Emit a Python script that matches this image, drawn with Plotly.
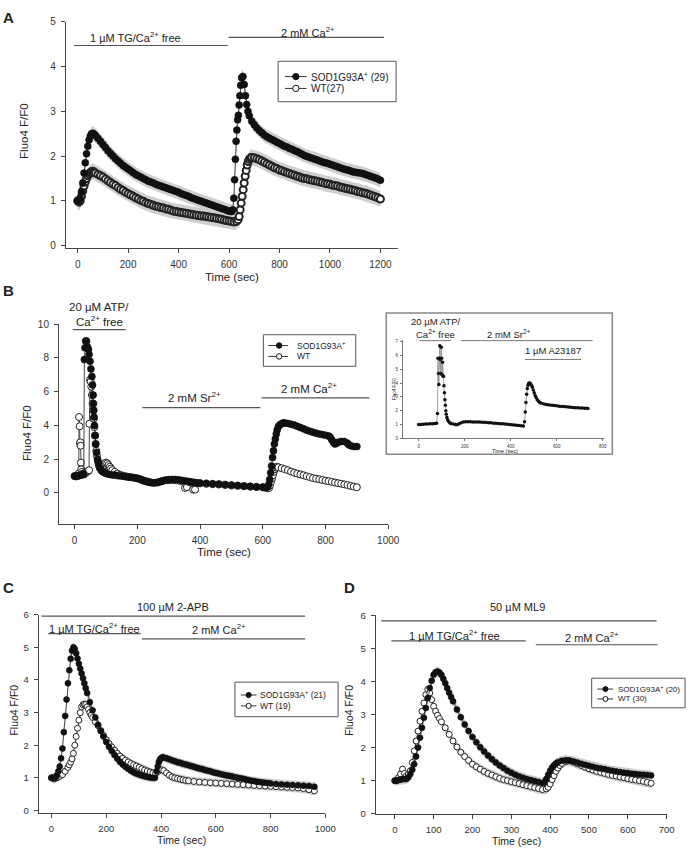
import plotly.graph_objects as go

W, H = 700, 853
FONT = "Liberation Sans, Arial, sans-serif"

# ---------------- data (time in sec, Fluo4 F/F0) ----------------
# Panel A: 1 uM TG / Ca2+ free, then 2 mM Ca2+
a_sod = [(0,1.00),(5,1.00),(10,1.05),(15,1.20),(20,1.40),(25,1.62),(30,1.85),(35,2.05),(40,2.22),(45,2.36),
         (50,2.45),(55,2.50),(60,2.51),(65,2.49),(70,2.46),(80,2.40),(90,2.33),(100,2.26),(110,2.19),(120,2.12),
         (130,2.06),(140,2.00),(150,1.94),(160,1.89),(170,1.84),(180,1.79),(190,1.75),(200,1.71),(210,1.67),
         (220,1.63),(230,1.59),(240,1.56),(250,1.53),(260,1.50),(270,1.47),(280,1.44),(290,1.42),(300,1.40),
         (310,1.37),(320,1.35),(330,1.33),(340,1.31),(350,1.29),(360,1.27),(370,1.25),(380,1.23),(390,1.21),
         (400,1.19),(410,1.16),(420,1.14),(430,1.12),(440,1.10),(450,1.07),(460,1.05),(470,1.03),(480,1.01),
         (490,0.99),(500,0.97),(510,0.95),(520,0.93),(530,0.91),(540,0.89),(550,0.87),(560,0.85),(570,0.83),
         (580,0.81),(590,0.79),(600,0.77),(610,0.76),(615,0.80),(619,1.06),(622,1.47),(625,1.93),(628,2.33),
         (631,2.58),(634,2.81),(637,2.91),(640,3.14),(643,3.35),(646,3.58),(650,3.75),(655,3.78),(660,3.60),
         (665,3.35),(670,3.15),(675,3.00),(680,2.90),(690,2.78),(700,2.70),(710,2.63),(720,2.57),(730,2.52),
         (740,2.47),(750,2.43),(760,2.40),(770,2.37),(780,2.34),(790,2.31),(800,2.28),(810,2.25),(820,2.22),
         (830,2.20),(840,2.17),(850,2.15),(860,2.12),(870,2.10),(880,2.07),(890,2.04),(900,2.01),(910,1.99),
         (920,1.97),(930,1.95),(940,1.93),(950,1.91),(960,1.89),(970,1.87),(980,1.85),(990,1.84),(1000,1.82),
         (1010,1.80),(1020,1.78),(1030,1.76),(1040,1.74),(1050,1.72),(1060,1.70),(1070,1.69),(1080,1.67),
         (1090,1.65),(1100,1.64),(1110,1.63),(1120,1.62),(1130,1.61),(1140,1.59),(1150,1.57),(1160,1.55),
         (1170,1.53),(1180,1.51),(1190,1.49),(1200,1.46)]
a_wt = [(0,1.00),(5,0.97),(10,1.00),(15,1.10),(20,1.22),(25,1.33),(30,1.42),(35,1.50),(40,1.56),(45,1.60),
        (50,1.63),(55,1.65),(60,1.66),(65,1.64),(70,1.62),(80,1.59),(90,1.56),(100,1.53),(110,1.49),(120,1.45),
        (130,1.41),(140,1.37),(150,1.34),(160,1.30),(170,1.26),(180,1.23),(190,1.19),(200,1.16),(210,1.13),
        (220,1.10),(230,1.07),(240,1.04),(250,1.01),(260,0.99),(270,0.96),(280,0.94),(290,0.92),(300,0.90),
        (310,0.88),(320,0.87),(330,0.85),(340,0.84),(350,0.82),(360,0.81),(370,0.79),(380,0.77),(390,0.76),
        (400,0.75),(410,0.74),(420,0.73),(430,0.72),(440,0.71),(450,0.70),(460,0.69),(470,0.68),(480,0.67),
        (490,0.66),(500,0.66),(510,0.65),(520,0.64),(530,0.63),(540,0.62),(550,0.61),(560,0.60),(570,0.59),
        (580,0.57),(590,0.56),(600,0.55),(610,0.54),(620,0.53),(630,0.54),(636,0.58),(640,0.65),(644,0.80),
        (648,0.95),(652,1.10),(656,1.25),(660,1.40),(664,1.55),(668,1.68),(672,1.80),(676,1.88),(680,1.93),
        (685,1.96),(690,1.97),(700,1.96),(710,1.94),(720,1.92),(730,1.89),(740,1.86),(750,1.83),(760,1.80),
        (770,1.77),(780,1.74),(790,1.72),(800,1.69),(810,1.67),(820,1.65),(830,1.63),(840,1.61),(850,1.59),
        (860,1.57),(870,1.55),(880,1.53),(890,1.51),(900,1.50),(910,1.49),(920,1.47),(930,1.46),(940,1.45),
        (950,1.44),(960,1.42),(970,1.41),(980,1.39),(990,1.38),(1000,1.37),(1010,1.35),(1020,1.34),(1030,1.33),
        (1040,1.31),(1050,1.30),(1060,1.28),(1070,1.27),(1080,1.26),(1090,1.24),(1100,1.23),(1110,1.21),
        (1120,1.20),(1130,1.18),(1140,1.17),(1150,1.15),(1160,1.13),(1170,1.11),(1180,1.09),(1190,1.07),(1200,1.04)]
sem_a_sod = 0.16
sem_a_wt = 0.18

# Panel B: 20 uM ATP / Ca2+ free, 2 mM Sr2+, 2 mM Ca2+
b_sod = [(0,1.0),(5,1.0),(10,1.0),(15,1.05),(20,1.05),(25,1.1),(29,1.12),(31,7.9),(33,8.6),(35,9.0),(38,9.0),
         (41,8.65),(44,8.5),(46,8.2),(49,7.8),(52,7.35),(55,6.9),(57,6.4),(59,5.8),(60,5.3),(61,4.9),(62,4.5),
         (63,4.0),(65,3.4),(67,2.9),(70,2.4),(73,2.0),(76,1.75),(80,1.5),(85,1.35),(90,1.25),(96,1.2),(100,1.15),
         (110,1.1),(120,1.07),(130,1.05),(140,1.02),(150,1.0),(160,0.97),(170,0.95),(180,0.93),(190,0.9),
         (200,0.86),(210,0.8),(220,0.72),(230,0.66),(240,0.62),(250,0.6),(260,0.62),(270,0.66),(280,0.71),
         (290,0.76),(300,0.79),(310,0.8),(320,0.8),(330,0.78),(340,0.75),(350,0.72),(360,0.69),(370,0.66),
         (380,0.63),(390,0.6),(400,0.59),(420,0.57),(440,0.55),(460,0.53),(480,0.5),(500,0.47),(520,0.45),
         (540,0.42),(560,0.4),(580,0.37),(600,0.35),(610,0.33),(615,0.35),(619,0.5),(622,0.8),(625,1.2),
         (628,1.6),(631,2.1),(634,2.5),(637,2.9),(640,3.2),(643,3.5),(646,3.75),(650,3.95),(655,4.05),(660,4.1),
         (665,4.15),(670,4.15),(680,4.12),(690,4.07),(700,4.02),(710,3.95),(720,3.88),(730,3.8),(740,3.72),
         (750,3.66),(760,3.6),(770,3.54),(780,3.5),(790,3.46),(800,3.42),(810,3.38),(815,3.3),(820,3.15),
         (825,3.0),(830,2.9),(835,2.95),(840,3.0),(850,3.05),(860,3.05),(870,2.95),(875,2.85),(880,2.8),
         (890,2.75),(900,2.75)]
b_wt = [(0,1.0),(4,0.98),(8,1.0),(11,1.1),(13,1.15),(14,4.5),(16,3.95),(17,2.95),(18,3.0),(19,2.8),(20,1.8),
        (21,1.4),(23,1.25),(26,1.15),(30,1.1),(35,1.2),(40,1.25),(44,1.3),(46,1.35),(47,4.1),(49,6.7),(51,6.6),
        (53,6.3),(55,5.8),(57,5.3),(59,4.9),(61,4.4),(63,3.9),(65,3.4),(67,2.9),(69,2.5),(71,2.2),(74,1.9),
        (77,1.65),(80,1.5),(84,1.4),(88,1.45),(92,1.6),(96,1.75),(100,1.8),(104,1.75),(108,1.65),(112,1.55),
        (116,1.45),(120,1.35),(128,1.25),(136,1.15),(145,1.08),(155,1.02),(165,0.98),(175,0.95),(185,0.92),
        (195,0.89),(205,0.85),(215,0.78),(225,0.72),(235,0.67),(245,0.62),(255,0.6),(265,0.62),(275,0.68),
        (285,0.74),(295,0.76),(305,0.77),(315,0.76),(325,0.75),(335,0.72),(345,0.68),(352,0.3),(358,0.35),
        (365,0.65),(372,0.62),(378,0.2),(384,0.2),(390,0.58),(400,0.57),(420,0.54),(440,0.52),(460,0.5),
        (480,0.47),(500,0.44),(520,0.42),(540,0.4),(560,0.37),(580,0.35),(600,0.33),(610,0.3),(616,0.28),
        (620,0.3),(623,0.45),(626,0.65),(629,0.85),(632,1.05),(635,1.25),(638,1.4),(642,1.5),(646,1.55),
        (650,1.52),(660,1.47),(670,1.41),(680,1.35),(690,1.27),(700,1.2),(710,1.15),(720,1.1),(730,1.05),
        (740,0.99),(750,0.94),(760,0.88),(770,0.85),(780,0.81),(790,0.77),(800,0.73),(810,0.7),(820,0.66),
        (830,0.62),(840,0.58),(850,0.55),(860,0.51),(870,0.47),(880,0.42),(890,0.38),(900,0.34)]

# Panel B inset: ATP / Sr2+ / 1 uM A23187
inset = [(0,1.0),(10,1.0),(20,1.02),(30,1.03),(40,1.04),(50,1.05),(60,1.06),(70,1.08),(78,1.1),(82,1.8),
         (84,5.8),(86,4.7),(88,3.9),(90,5.8),(92,6.7),(94,5.7),(96,4.7),(98,6.6),(100,5.8),(102,4.6),(104,5.5),
         (106,4.5),(108,4.5),(110,3.8),(112,3.3),(114,2.8),(116,2.4),(118,2.0),(120,1.75),(123,1.5),(126,1.35),
         (130,1.22),(135,1.13),(140,1.08),(150,1.03),(160,1.0),(168,0.98),(176,1.05),(185,1.13),(195,1.18),
         (205,1.2),(215,1.2),(225,1.2),(235,1.19),(245,1.19),(255,1.18),(265,1.18),(275,1.17),(285,1.16),
         (295,1.15),(305,1.13),(315,1.12),(325,1.1),(335,1.09),(345,1.08),(355,1.06),(365,1.05),(375,1.04),
         (385,1.02),(395,1.0),(405,0.99),(415,0.97),(425,0.95),(435,0.93),(445,0.91),(455,0.9),(460,1.2),
         (463,1.9),(466,2.6),(469,3.2),(472,3.6),(475,3.85),(478,3.98),(482,4.0),(486,3.95),(490,3.85),
         (494,3.7),(498,3.5),(502,3.3),(506,3.1),(510,2.95),(515,2.8),(520,2.7),(525,2.62),(530,2.56),
         (540,2.5),(550,2.46),(560,2.43),(570,2.41),(580,2.39),(590,2.37),(600,2.35),(610,2.33),(620,2.31),
         (630,2.3),(640,2.28),(650,2.27),(660,2.25),(670,2.24),(680,2.22),(690,2.21),(700,2.2),(710,2.19),
         (720,2.18),(730,2.17),(735,2.16)]

# Panel C: 100 uM 2-APB throughout
c_sod = [(0,1.0),(5,1.0),(10,1.0),(15,1.02),(20,1.08),(25,1.2),(30,1.35),(35,1.6),(40,1.9),(45,2.4),(50,2.9),
         (55,3.4),(60,3.9),(65,4.3),(70,4.65),(75,4.9),(80,5.0),(85,4.95),(90,4.82),(95,4.66),(100,4.5),
         (105,4.35),(110,4.2),(115,4.05),(120,3.9),(125,3.75),(130,3.6),(140,3.32),(150,3.07),(160,2.85),
         (170,2.63),(180,2.44),(190,2.27),(200,2.1),(210,1.95),(220,1.82),(230,1.7),(240,1.59),(250,1.49),
         (260,1.41),(270,1.34),(280,1.28),(290,1.22),(300,1.17),(310,1.13),(320,1.1),(330,1.07),(340,1.05),
         (350,1.03),(360,1.01),(370,1.0),(378,1.0),(384,1.2),(388,1.35),(392,1.48),(396,1.56),(400,1.6),
         (405,1.63),(410,1.62),(420,1.6),(430,1.57),(440,1.54),(450,1.51),(460,1.48),(470,1.46),(480,1.43),
         (490,1.41),(500,1.39),(510,1.36),(520,1.34),(530,1.31),(540,1.29),(550,1.27),(560,1.24),(570,1.22),
         (580,1.2),(590,1.17),(600,1.15),(610,1.13),(620,1.11),(630,1.09),(640,1.07),(650,1.06),(660,1.04),
         (670,1.02),(680,1.0),(690,0.99),(700,0.97),(710,0.95),(720,0.93),(730,0.91),(740,0.9),(750,0.88),
         (760,0.87),(770,0.86),(780,0.85),(790,0.84),(800,0.83),(820,0.81),(840,0.8),(860,0.79),(880,0.78),
         (900,0.77),(920,0.76),(940,0.75),(960,0.73)]
c_wt = [(0,1.0),(10,0.97),(20,1.0),(30,1.05),(40,1.1),(50,1.2),(60,1.32),(65,1.4),(70,1.48),(75,1.58),
        (80,1.75),(85,2.0),(90,2.27),(95,2.52),(100,2.77),(105,3.0),(110,3.18),(115,3.24),(120,3.26),(125,3.25),
        (130,3.18),(135,3.1),(140,3.0),(145,2.92),(150,2.85),(160,2.72),(170,2.6),(180,2.45),(190,2.3),
        (200,2.17),(210,2.05),(220,1.95),(230,1.85),(240,1.75),(250,1.67),(260,1.6),(270,1.54),(280,1.49),
        (290,1.44),(300,1.4),(310,1.36),(320,1.32),(330,1.28),(340,1.24),(350,1.21),(360,1.18),(370,1.15),
        (380,1.13),(390,1.2),(400,1.25),(410,1.22),(420,1.15),(430,1.08),(440,1.03),(450,1.0),(460,0.98),
        (470,0.96),(480,0.94),(490,0.92),(500,0.91),(520,0.89),(540,0.87),(560,0.86),(580,0.85),(600,0.84),
        (620,0.83),(640,0.82),(660,0.81),(680,0.8),(700,0.79),(720,0.78),(740,0.77),(760,0.76),(780,0.75),
        (800,0.74),(820,0.73),(840,0.72),(860,0.71),(880,0.7),(900,0.69),(920,0.67),(940,0.64),(960,0.6)]
sem_c_sod = 0.14
sem_c_wt = 0.14

# Panel D: 50 uM ML9 throughout
d_sod = [(0,1.0),(5,1.0),(10,1.02),(15,1.03),(20,1.05),(25,1.05),(30,1.05),(35,1.1),(40,1.2),(45,1.33),
         (50,1.5),(55,1.73),(60,2.0),(65,2.3),(70,2.6),(75,2.9),(80,3.2),(85,3.5),(90,3.8),(95,4.02),(100,4.2),
         (105,4.28),(110,4.3),(115,4.27),(120,4.2),(125,4.08),(130,3.95),(135,3.8),(140,3.66),(145,3.53),
         (150,3.4),(160,3.15),(170,2.92),(180,2.7),(190,2.5),(200,2.32),(210,2.16),(220,2.01),(230,1.88),
         (240,1.76),(250,1.65),(260,1.55),(270,1.46),(280,1.38),(290,1.3),(300,1.24),(310,1.18),(320,1.13),
         (330,1.09),(340,1.05),(350,1.02),(360,0.99),(370,0.96),(380,0.93),(385,0.95),(390,1.05),(395,1.18),
         (400,1.3),(405,1.4),(410,1.47),(415,1.52),(420,1.56),(430,1.6),(440,1.62),(450,1.61),(460,1.58),
         (470,1.55),(480,1.51),(490,1.48),(500,1.45),(510,1.42),(520,1.39),(530,1.37),(540,1.35),(550,1.32),
         (560,1.3),(570,1.28),(580,1.26),(590,1.24),(600,1.23),(610,1.21),(620,1.2),(630,1.19),(640,1.18),
         (650,1.17),(660,1.16)]
d_wt = [(0,1.0),(5,1.02),(10,1.1),(15,1.2),(20,1.35),(25,1.22),(30,1.15),(35,1.2),(40,1.3),(45,1.55),
        (50,1.9),(55,2.2),(60,2.5),(65,2.8),(70,3.1),(75,3.35),(80,3.6),(85,3.76),(90,3.65),(95,3.45),
        (100,3.25),(105,3.1),(110,2.98),(115,2.88),(120,2.78),(130,2.6),(140,2.4),(150,2.2),(160,2.02),
        (170,1.86),(180,1.73),(190,1.61),(200,1.5),(210,1.42),(220,1.35),(230,1.28),(240,1.22),(250,1.17),
        (260,1.12),(270,1.07),(280,1.03),(290,1.0),(300,0.97),(310,0.94),(320,0.91),(330,0.88),(340,0.85),
        (350,0.82),(360,0.79),(370,0.76),(380,0.73),(390,0.75),(395,0.8),(400,0.9),(405,1.03),(410,1.15),
        (415,1.28),(420,1.38),(425,1.46),(430,1.52),(440,1.58),(445,1.6),(450,1.6),(460,1.56),(470,1.51),
        (480,1.46),(490,1.41),(500,1.36),(510,1.32),(520,1.28),(530,1.25),(540,1.22),(550,1.19),(560,1.16),
        (570,1.14),(580,1.11),(590,1.09),(600,1.06),(610,1.04),(620,1.02),(630,1.0),(640,0.98),(650,0.95),
        (660,0.92)]
sem_d_sod = 0.15
sem_d_wt = 0.15

# treatment bars: (start, end, level)
bars_a = [(-16, 595, 4.47), (598, 1214, 4.65)]
bars_b = [(-6, 163, 9.67), (216, 592, 5.05), (596, 940, 5.63)]
bars_inset = [(4, 141, 7.07), (184, 756, 7.07), (462, 705, 5.71)]
bars_c = [(-37, 926, 5.96), (-12, 326, 5.42), (330, 926, 5.26)]
bars_d = [(-35, 674, 5.83), (-9, 337, 5.23), (363, 677, 5.11)]

legend_a = ["SOD1G93A<sup>+</sup> (29)", "WT(27)"]
legend_b = ["SOD1G93A<sup>+</sup>", "WT"]
legend_c = ["SOD1G93A<sup>+</sup> (21)", "WT (19)"]
legend_d = ["SOD1G93A<sup>+</sup> (20)", "WT (30)"]


def unz(pairs):
    return [p[0] for p in pairs], [p[1] for p in pairs]


fig = go.Figure()


def band(pairs, sem, xa, ya):
    t, v = unz(pairs)
    up = [y + sem for y in v]
    lo = [y - sem for y in v]
    fig.add_trace(go.Scatter(x=t + t[::-1], y=up + lo[::-1], fill="toself", fillcolor="#cfcfcf",
                             line=dict(width=0), mode="lines", xaxis=xa, yaxis=ya,
                             showlegend=False, hoverinfo="skip"))


def series(pairs, name, filled, xa, ya, size, edge=1.0):
    t, v = unz(pairs)
    marker = dict(symbol="circle", size=size,
                  color="#111" if filled else "white",
                  line=dict(color="#111" if filled else "#222", width=0.6 if filled else edge))
    fig.add_trace(go.Scatter(x=t, y=v, mode="lines+markers", name=name, marker=marker,
                             line=dict(color="#444", width=1), xaxis=xa, yaxis=ya,
                             showlegend=False, hoverinfo="skip"))


def bars(spec, xa, ya, color="#555", width=1.2):
    for x0, x1, lv in spec:
        fig.add_trace(go.Scatter(x=[x0, x1], y=[lv, lv], mode="lines", line=dict(color=color, width=width),
                                 xaxis=xa, yaxis=ya, showlegend=False, hoverinfo="skip"))


# A
band(a_wt, sem_a_wt, "x", "y")
band(a_sod, sem_a_sod, "x", "y")
series(a_wt, legend_a[1], False, "x", "y", 7, edge=2)
series(a_sod, legend_a[0], True, "x", "y", 7)
bars(bars_a, "x", "y")

# B
series(b_wt, legend_b[1], False, "x2", "y2", 7)
series(b_sod, legend_b[0], True, "x2", "y2", 7)
bars(bars_b, "x2", "y2")

# inset
t_in, v_in = unz(inset)
fig.add_trace(go.Scatter(x=t_in, y=v_in, mode="lines+markers", marker=dict(size=3.5, color="#111"),
                         line=dict(color="#888", width=0.8), xaxis="x3", yaxis="y3",
                         showlegend=False, hoverinfo="skip"))
bars(bars_inset, "x3", "y3", color="#777", width=1)

# C
band(c_wt, sem_c_wt, "x4", "y4")
band(c_sod, sem_c_sod, "x4", "y4")
series(c_wt, legend_c[1], False, "x4", "y4", 6)
series(c_sod, legend_c[0], True, "x4", "y4", 6)
bars(bars_c, "x4", "y4")

# D
band(d_wt, sem_d_wt, "x5", "y5")
band(d_sod, sem_d_sod, "x5", "y5")
series(d_wt, legend_d[1], False, "x5", "y5", 6)
series(d_sod, legend_d[0], True, "x5", "y5", 6)
bars(bars_d, "x5", "y5")


def px(x):
    return x / W


def py(y):
    return 1 - y / H


def ax(domain, rng, tickvals, anchor, size=10, **kw):
    d = dict(domain=domain, range=rng, tickvals=tickvals, anchor=anchor, showline=True, linecolor="#444",
             linewidth=1, ticks="outside", ticklen=4, tickcolor="#444", showgrid=False, zeroline=False,
             tickfont=dict(size=size, color="#333", family=FONT), ticklabelstandoff=3)
    d.update(kw)
    return d


fig.update_layout(
    width=W, height=H, margin=dict(l=0, r=0, t=0, b=0), plot_bgcolor="white", paper_bgcolor="white",
    font=dict(family=FONT, color="#222"), showlegend=False,
    xaxis=ax([px(67), px(405)], [-47, 1270], list(range(0, 1201, 200)), "y"),
    yaxis=ax([py(245), py(16)], [-0.05, 5], [0, 1, 2, 3, 4, 5], "x"),
    xaxis2=ax([px(60), px(395)], [-50, 1000], list(range(0, 1001, 200)), "y2"),
    yaxis2=ax([py(525), py(322.3)], [-1.85, 10], [0, 2, 4, 6, 8, 10], "x2"),
    xaxis3=ax([px(410), px(615)], [-68, 807], [0, 200, 400, 600, 800], "y3", size=4.5, ticklen=2,
              linecolor="#777", tickcolor="#777", ticklabelstandoff=1),
    yaxis3=ax([py(438), py(337.9)], [0, 7.15], list(range(8)), "x3", size=4.5, ticklen=2,
              linecolor="#777", tickcolor="#777", ticklabelstandoff=1),
    xaxis4=ax([px(39.3), px(331)], [-47, 1000], list(range(0, 1001, 200)), "y4", size=9.5),
    yaxis4=ax([py(817.3), py(616.7)], [-0.07, 6], list(range(7)), "x4", size=9.5),
    xaxis5=ax([px(382.3), px(678.3)], [-49, 700], list(range(0, 701, 100)), "y5", size=9.5),
    yaxis5=ax([py(818.3), py(617.3)], [0, 6], list(range(7)), "x5", size=9.5),
)

# inset frame
fig.add_shape(type="rect", xref="paper", yref="paper", x0=px(393), x1=px(623), y0=py(454), y1=py(311),
              line=dict(color="#888", width=1.5), fillcolor="rgba(0,0,0,0)", layer="below")


def note(text, x, y, xref="paper", yref="paper", size=11, angle=0, bold=False, anchor="center"):
    fig.add_annotation(text=f"<b>{text}</b>" if bold else text, x=x, y=y, xref=xref, yref=yref,
                       showarrow=False, textangle=angle, xanchor=anchor, yanchor="middle",
                       font=dict(size=size, color="#222", family=FONT))


def key(box, rows, line_x, dot_x, text_x, r, size):
    # hand-made legend box: rows = [(label, filled, y_px), ...]
    x0, y0, x1, y1 = box
    fig.add_shape(type="rect", xref="paper", yref="paper", x0=px(x0), x1=px(x1), y0=py(y1), y1=py(y0),
                  line=dict(color="#555", width=1), fillcolor="white")
    for label, filled, y in rows:
        fig.add_shape(type="line", xref="paper", yref="paper", x0=px(line_x[0]), x1=px(line_x[1]),
                      y0=py(y), y1=py(y), line=dict(color="#333", width=1))
        fig.add_shape(type="circle", xref="paper", yref="paper", x0=px(dot_x - r), x1=px(dot_x + r),
                      y0=py(y + r), y1=py(y - r), line=dict(color="#111", width=1),
                      fillcolor="#111" if filled else "white")
        note(label, px(text_x), py(y), size=size, anchor="left")


key((283, 56, 403, 97), [(legend_a[0], True, 71.5), (legend_a[1], False, 83.5)],
    (290, 312), 301, 314, 3.2, 10)
key((268, 333, 362, 365), [(legend_b[0], True, 344), (legend_b[1], False, 355)],
    (273, 293), 284, 300, 2.8, 8.5)
key((239, 685, 344, 720), [(legend_c[0], True, 698), (legend_c[1], False, 709)],
    (245, 261), 253, 263, 2.6, 8.5)
key((602, 681, 697, 711), [(legend_d[0], True, 692), (legend_d[1], False, 702)],
    (608, 624), 616, 627, 2.5, 8)

# panel letters
note("A", px(9), py(12), size=15, bold=True)
note("B", px(9), py(288), size=15, bold=True)
note("C", px(9), py(589), size=15, bold=True)
note("D", px(356), py(589), size=15, bold=True)

# axis titles
note("Fluo4 F/F0", px(25), py(127), size=11.5, angle=-90)
note("Time (sec)", px(236), py(275), size=11.5)
note("Fluo4 F/F0", px(28), py(433), size=11.5, angle=-90)
note("Time (sec)", px(228), py(553), size=11.5)
note("Fluo4 F/F0", px(402), py(388), size=4.5, angle=-90)
note("Time (sec)", px(514), py(451), size=5.5)
note("Fluo4 F/F0", px(14), py(713), size=10.5, angle=-90)
note("Time (sec)", px(185), py(845), size=10.5)
note("Fluo4 F/F0", px(355), py(713), size=10.5, angle=-90)
note("Time (sec)", px(525), py(846), size=10.5)

# treatment labels: x in time units, y on the page
CA = "Ca<sup>2+</sup>"
note(f"1 \u00b5M TG/{CA} free", 230, py(31), "x", "paper", 11)
note(f"2 mM {CA}", 912, py(26), "x", "paper", 11)
note("20 \u00b5M ATP/", 78, py(305), "x2", "paper", 11.5)
note(f"{CA} free", 78, py(319), "x2", "paper", 11.5)
note("2 mM Sr<sup>2+</sup>", 382, py(396), "x2", "paper", 11.5)
note(f"2 mM {CA}", 746, py(387), "x2", "paper", 11.5)
note("20 \u00b5M ATP/", 73, py(320), "x3", "paper", 9.5)
note(f"{CA} free", 73, py(332), "x3", "paper", 9.5)
note("2 mM Sr<sup>2+</sup>", 393, py(332), "x3", "paper", 9.5)
note("1 \u00b5M A23187", 585, py(349), "x3", "paper", 9.5)
note("100 \u00b5M 2-APB", 444, py(609), "x4", "paper", 11)
note(f"1 \u00b5M TG/{CA} free", 157, py(630), "x4", "paper", 11)
note(f"2 mM {CA}", 610, py(631), "x4", "paper", 11)
note("50 \u00b5M ML9", 317, py(609), "x5", "paper", 11)
note(f"1 \u00b5M TG/{CA} free", 155, py(637), "x5", "paper", 11)
note(f"2 mM {CA}", 507, py(639), "x5", "paper", 11)

fig.write_html("out.html", config={"displayModeBar": False},
               post_script="document.body.style.margin='0';")
